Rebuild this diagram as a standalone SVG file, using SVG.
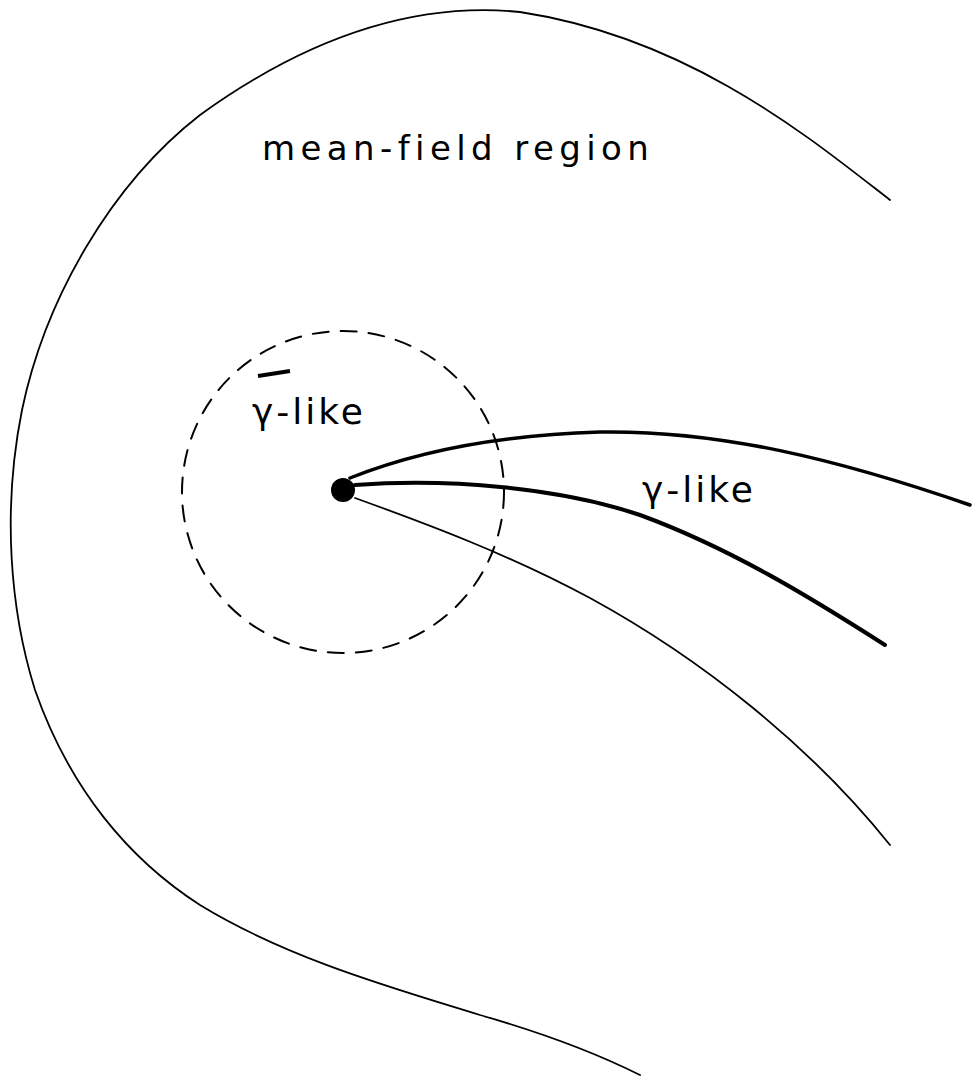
<svg xmlns="http://www.w3.org/2000/svg" width="972" height="1086" viewBox="0 0 972 1086">
<style>
.ln{fill:none;stroke:#000;stroke-linecap:round;stroke-linejoin:round}
.lab{font-family:"DejaVu Sans","Liberation Sans",sans-serif;fill:#000}
</style>
<rect width="972" height="1086" fill="#fff"/>
<g id="outer-boundary">
<path class="ln" stroke-width="1.8" d="M890,200 C810,138 690,38 520,12 C400,0 290,50 200,115 C110,185 45,300 22,410 C2,510 10,610 35,690 C70,790 130,860 200,905 C290,960 400,990 480,1015 C550,1035 600,1055 640,1075"/>
</g>
<g id="dashed-circle">
<circle class="ln" cx="343" cy="492" r="161" stroke-width="2" stroke-dasharray="16,12"/>
</g>
<g id="connectors">
<path class="ln" stroke-width="3.5" d="M350,478 C420,450 500,435 600,432 C720,430 840,460 970,505"/>
<path class="ln" stroke-width="4" d="M355,485 C450,478 560,488 640,515 C730,548 810,597 885,645"/>
<path class="ln" stroke-width="1.8" d="M355,498 C430,525 510,555 590,598 C700,658 810,745 890,845"/>
</g>
<g id="center-dot">
<circle cx="343" cy="490" r="12" fill="#000"/>
</g>
<g id="labels">
<text class="lab" x="262" y="160" font-size="34" letter-spacing="5.4">mean-field region</text>
<text class="lab" x="252" y="424" font-size="36" letter-spacing="3">γ-like</text>
<line x1="258" y1="376" x2="290" y2="371" stroke="#000" stroke-width="4"/>
<text class="lab" x="642" y="502" font-size="36" letter-spacing="3">γ-like</text>
</g>
</svg>
